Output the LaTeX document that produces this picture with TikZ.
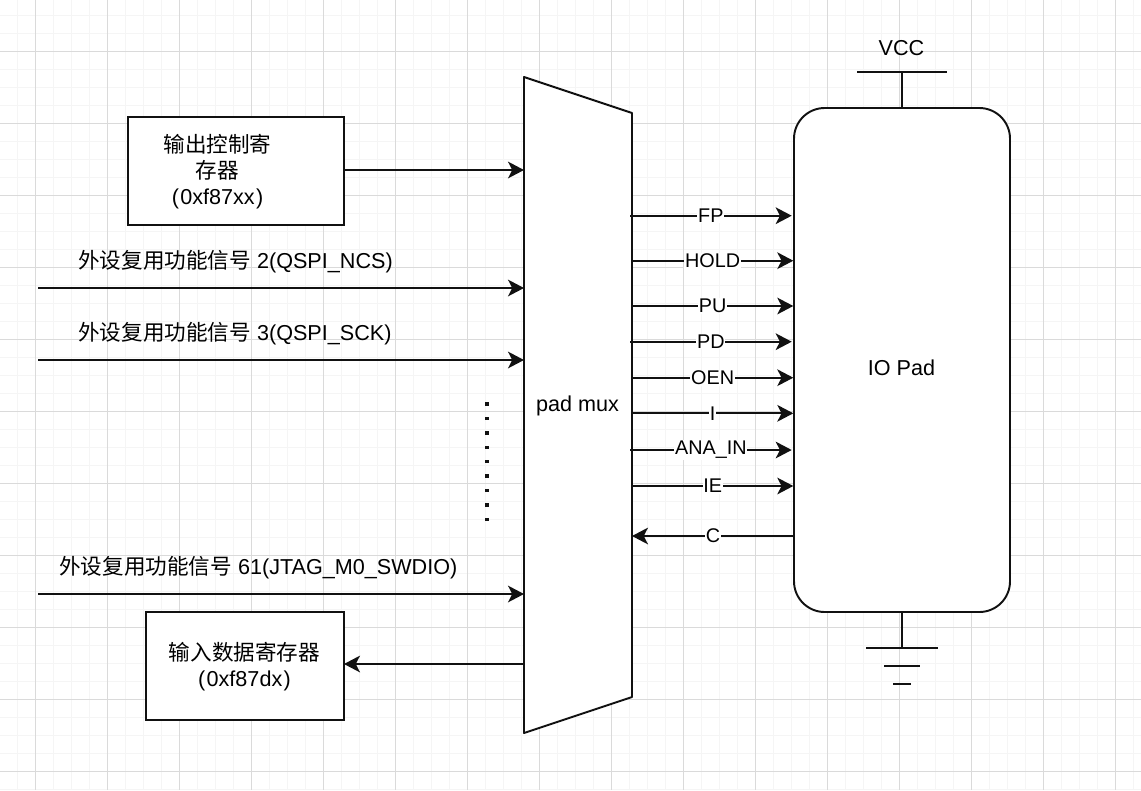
\documentclass[tikz,border=0pt]{standalone}
\usepackage{fontspec}
\setmainfont{Liberation Sans}
\newfontfamily\cjk{Noto Sans CJK SC}
\usetikzlibrary{arrows.meta}

\definecolor{gridmajor}{HTML}{DADADA}
\definecolor{gridminor}{HTML}{F5F5F5}
\definecolor{linecol}{HTML}{111111}

\tikzset{
  sigline/.style={draw=linecol,line width=1.45pt,-{Stealth[length=12pt,width=12.5pt,inset=3.2pt]}},
  wireline/.style={draw=linecol,line width=1.45pt},
  boxnode/.style={draw=linecol,fill=white,line width=1.45pt,inner sep=0pt,outer sep=0pt},
  textnode/.style={inner sep=0pt,align=center,font=\fontsize{16.2}{19.5}\selectfont},
  edgelabel/.style={fill=white,inner sep=0.6pt,font=\fontsize{14.85}{17}\selectfont}
}

\begin{document}
\begin{tikzpicture}[x=0.75pt,y=-0.75pt]

\useasboundingbox (0,0) rectangle (1141,790);
\fill[white] (0,0) rectangle (1141,790);

% grid
\foreach \x in {0,...,63}
    \draw[gridminor,line width=1pt] ({17.7+18*\x},0) -- ({17.7+18*\x},790);
\foreach \y in {0,...,43}
    \draw[gridminor,line width=1pt] (0,{15.7+18*\y}) -- (1141,{15.7+18*\y});
\foreach \x in {0,...,15}
    \draw[gridmajor,line width=0.8pt] ({35.7+72*\x},0) -- ({35.7+72*\x},790);
\foreach \y in {0,...,10}
    \draw[gridmajor,line width=0.8pt] (0,{51.7+72*\y}) -- (1141,{51.7+72*\y});

% mux
\coordinate (mux0) at (524,77);
\coordinate (mux1) at (632,113);
\coordinate (mux2) at (632,697);
\coordinate (mux3) at (524,733);
\draw[wireline,fill=white,line join=round] (mux0) -- (mux1) -- (mux2) -- (mux3) -- cycle;
\node[textnode] (muxtext) at (577.5,406) {pad mux};

% registers
\node[boxnode,minimum width=162pt,minimum height=81pt] (outreg) at (236,171) {};
\node[textnode] (outtext) at (217.5,171.5) {{\cjk 输出控制寄}\\{\cjk 存器}\\(\kern.06em 0xf87xx\kern.06em)};
\node[boxnode,minimum width=148.5pt,minimum height=81pt] (inreg) at (245,666) {};
\node[textnode] (intext) at (244.5,667) {{\cjk 输入数据寄存器}\\(\kern.06em 0xf87dx\kern.06em)};

% pad
\node[boxnode,rounded corners=23pt,minimum width=162pt,minimum height=378pt] (pad) at (902,360) {};
\node[textnode] (padtext) at (901.5,368) {IO Pad};

% inputs
\coordinate (in2) at (38,288);
\coordinate (in3) at (38,360);
\coordinate (in61) at (38,594);
\coordinate (mux2in) at (524,288);
\coordinate (mux3in) at (524,360);
\coordinate (mux61in) at (524,594);
\coordinate (muxout) at (524,170);
\coordinate (muxback) at (523,664);

\draw[sigline] (outreg.east |- muxout) -- (muxout);
\draw[sigline] (in2) -- (mux2in);
\draw[sigline] (in3) -- (mux3in);
\draw[sigline] (in61) -- (mux61in);
\draw[sigline] (muxback) -- (inreg.east |- muxback);

\node[textnode,anchor=west] (label2) at (78,261.5) {{\cjk 外设复用功能信号} 2(QSPI\_NCS)};
\node[textnode,anchor=west] (label3) at (78,333.5) {{\cjk 外设复用功能信号} 3(QSPI\_SCK)};
\node[textnode,anchor=west] (label61) at (59,567.5) {{\cjk 外设复用功能信号} 61(JTAG\_M0\_SWDIO)};

% dots
\foreach \i in {0,...,8}
    \fill[linecol] ({487-1.7},{404+14.4*\i-1.7}) rectangle ({487+1.7},{404+14.4*\i+1.7});

% mux to pad
\foreach \id/\y/\xa/\xb/\txt in {fp/215.7/630/791.7/FP,hold/260.7/632/793.3/HOLD,pu/306/632/793.3/PU,pd/341.7/630/791.7/PD,oen/377.7/632/793.3/OEN,i/413.3/632/793.3/I,ana/450/630/791.7/ANA\_IN,ie/486/632/793.3/IE}
{
    \coordinate (mux\id) at (\xa,\y);
    \coordinate (pad\id) at (\xb,\y);
    \draw[sigline] (mux\id) -- node[edgelabel] {\txt} (pad\id);
}
\coordinate (padc) at (794,536);
\coordinate (muxc) at (632,536);
\draw[sigline] (padc) -- node[edgelabel] {C} (muxc);

% power
\node[textnode] (vcc) at (901.5,48.5) {VCC};
\coordinate (vccl) at (857,72);
\coordinate (vccr) at (947,72);
\coordinate (vccm) at (902,72);
\draw[wireline] (vccl) -- (vccr);
\draw[wireline] (pad.north) -- (vccm);

% ground
\coordinate (gnd0) at (902,648);
\coordinate (gnd1l) at (866,648);
\coordinate (gnd1r) at (938,648);
\coordinate (gnd2l) at (884,666);
\coordinate (gnd2r) at (920,666);
\coordinate (gnd3l) at (893,684);
\coordinate (gnd3r) at (911,684);
\draw[wireline] (pad.south) -- (gnd0);
\draw[wireline] (gnd1l) -- (gnd1r);
\draw[wireline] (gnd2l) -- (gnd2r);
\draw[wireline] (gnd3l) -- (gnd3r);

\end{tikzpicture}
\end{document}
